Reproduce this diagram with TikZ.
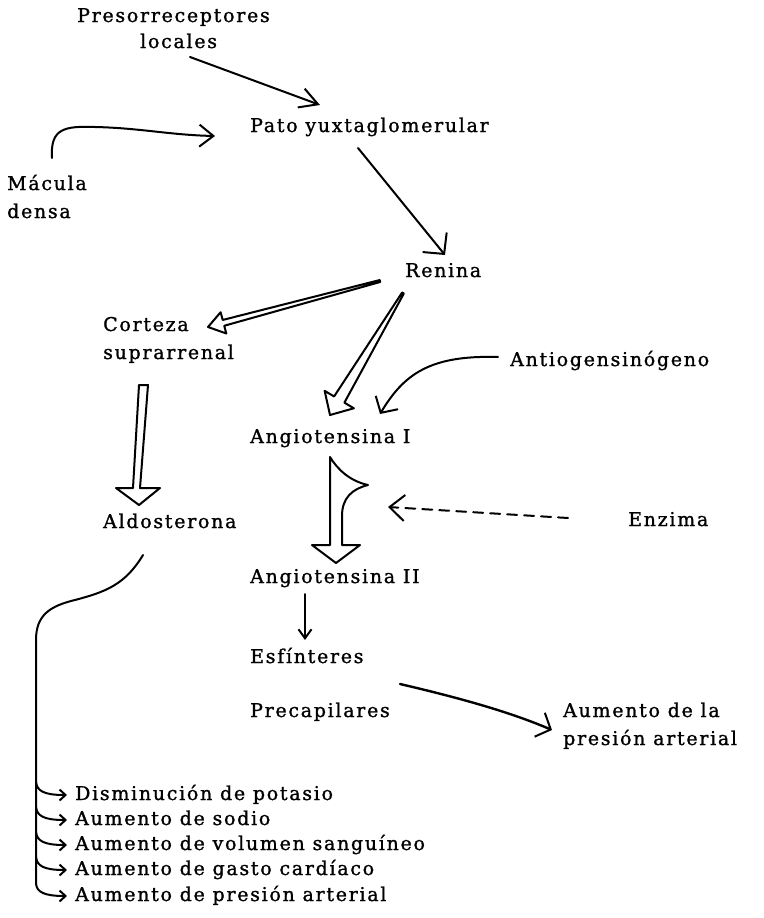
\documentclass[tikz,border=0pt]{standalone}
\usepackage{fontspec}
\newfontfamily\labelfont{DejaVu Serif}[LetterSpace=9, FakeBold=1.2]
\usetikzlibrary{arrows.meta,calc}

\tikzset{
  lbl/.style={font=\labelfont\fontsize{19}{22}\selectfont, inner sep=0pt, anchor=base west},
  con/.style={line width=2pt, line cap=round, line join=round},
  hollow/.style={line width=2pt, line join=round, fill=white},
}

% hollow arrow: start, tip, half width at start, half shaft width at head, half head width, head length
\newcommand{\hollowarrow}[6]{%
  \coordinate (hb) at ($(#2)!#6!(#1)$);
  \draw[hollow] ($(#1)!#3!90:(#2)$) -- ($(hb)!#4!90:(#2)$) -- ($(hb)!#5!90:(#2)$)
    -- (#2) -- ($(hb)!#5!-90:(#2)$) -- ($(hb)!#4!-90:(#2)$) -- ($(#1)!#3!-90:(#2)$) -- cycle;
}

\begin{document}
\begin{tikzpicture}[x=1pt, y=-1pt]
\useasboundingbox (0,0) rectangle (763,918);

% labels
\node[lbl] (presA) at (77,22) {Presorreceptores};
\node[lbl] (presB) at (140,48) {locales};
\node[lbl] (pato) at (250,132) {Pato yuxtaglomerular};
\node[lbl] (macA) at (7,190) {Mácula};
\node[lbl] (macB) at (7,218) {densa};
\node[lbl] (ren) at (405,277) {Renina};
\node[lbl] (cortA) at (103,331) {Corteza};
\node[lbl] (cortB) at (103,359) {suprarrenal};
\node[lbl] (antio) at (510,366) {Antiogensinógeno};
\node[lbl] (angI) at (250,443) {Angiotensina I};
\node[lbl] (aldo) at (103,528) {Aldosterona};
\node[lbl] (enz) at (628,526) {Enzima};
\node[lbl] (angII) at (250,583) {Angiotensina II};
\node[lbl] (esf) at (250,663) {Esfínteres};
\node[lbl] (prec) at (250,717) {Precapilares};
\node[lbl] (aumA) at (563,717) {Aumento de la};
\node[lbl] (aumB) at (563,745) {presión arterial};
\node[lbl] (ef1) at (75,800) {Disminución de potasio};
\node[lbl] (ef2) at (75,825) {Aumento de sodio};
\node[lbl] (ef3) at (75,850) {Aumento de volumen sanguíneo};
\node[lbl] (ef4) at (75,875) {Aumento de gasto cardíaco};
\node[lbl] (ef5) at (75,901) {Aumento de presión arterial};

% connector end points
\coordinate (presOut) at (190,57);
\coordinate (patoIn1) at (320,105);
\coordinate (macOut) at (52,158);
\coordinate (patoIn2) at (215,136);
\coordinate (patoOut) at (358,148);
\coordinate (renIn) at (445,255);
\coordinate (renOutL) at (380,281);
\coordinate (cortIn) at (208,327);
\coordinate (renOutD) at (403,293);
\coordinate (angIinA) at (330,415);
\coordinate (antioOut) at (498,357);
\coordinate (angIinB) at (380,414);
\coordinate (cortOut) at (144,385);
\coordinate (aldoIn) at (139,505);
\coordinate (enzOut) at (568,518);
\coordinate (enzIn) at (388,507);
\coordinate (angIIout) at (305,594);
\coordinate (esfIn) at (305,640);
\coordinate (precOut) at (400,684);
\coordinate (aumIn) at (552,730);
\coordinate (aldoOut) at (143,555);
\coordinate (trunkTop) at (36,640);
\coordinate (trunkEnd) at (36,884);

% thin arrows
\draw[con, -{Straight Barb[length=18pt, width=20pt, line width=2pt]}] (presOut) -- (patoIn1);
\draw[con, -{Straight Barb[length=14pt, width=22pt, line width=2pt]}] (macOut)
  .. controls (50,128) and (65,126) .. (95,127) .. controls (140,128) and (170,135) .. (patoIn2);
\draw[con, -{Straight Barb[length=15pt, width=31pt, line width=2pt]}] (patoOut) -- (renIn);
\draw[con, -{Straight Barb[length=12pt, width=26pt, line width=2pt]}] (antioOut)
  .. controls (430,355) and (404,374) .. (angIinB);
\draw[con, dash pattern=on 10pt off 7pt, -{Straight Barb[length=15pt, width=26pt, line width=2pt]}] (enzOut) -- (enzIn);
\draw[con, -{Straight Barb[length=9pt, width=13pt, line width=2pt]}] (angIIout) -- (esfIn);
\draw[con, line width=2.4pt, -{Straight Barb[length=12pt, width=26pt, line width=2pt]}] (precOut)
  .. controls (460,698) and (510,712) .. (aumIn);

% hollow arrows
\hollowarrow{renOutL}{cortIn}{1pt}{3pt}{11pt}{16pt}
\hollowarrow{renOutD}{angIinA}{1pt}{6pt}{17pt}{18pt}
\draw[hollow] (139,385) -- (148,385) -- (140,488) -- (160,488) -- (aldoIn) -- (116,488) -- (133,488) -- cycle;
\draw[hollow] (330,457) -- (330,545) -- (312,545) -- (336,563) -- (360,545) -- (342,545)
  -- (342,516) .. controls (342,498) and (352,489) .. (368,485)
  .. controls (350,481) and (338,470) .. cycle;

% aldosterona effects
\draw[con] (aldoOut) .. controls (125,585) and (105,592) .. (75,600)
  .. controls (50,606) and (36,615) .. (trunkTop) -- (trunkEnd);
\foreach \i/\yy in {1/795,2/820,3/845,4/870} {
  \draw[con, -{Straight Barb[length=6pt, width=11pt, line width=2pt]}]
    (36,\yy-13) .. controls (37,\yy-4) and (44,\yy) .. ([shift={(-8,-5)}]ef\i.base west);
}
\draw[con, -{Straight Barb[length=6pt, width=11pt, line width=2pt]}]
  (trunkEnd) .. controls (37,892) and (44,896) .. ([shift={(-8,-5)}]ef5.base west);
\end{tikzpicture}
\end{document}
